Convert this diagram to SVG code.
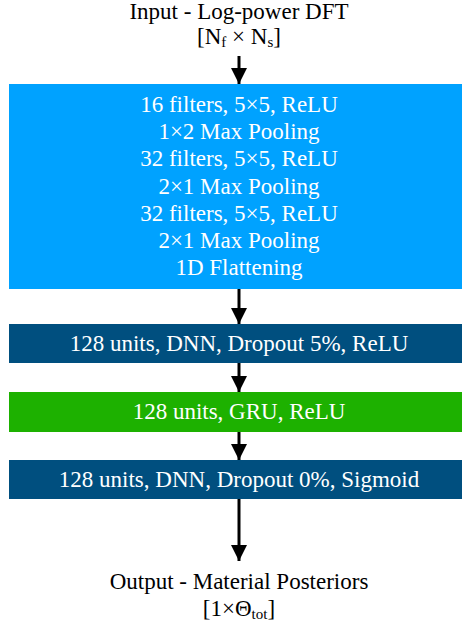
<svg xmlns="http://www.w3.org/2000/svg" width="462" height="625" viewBox="0 0 462 625">
<defs>
<style>
text{font-family:"Liberation Serif","Times New Roman",serif;font-size:23px;text-anchor:middle}
.w{fill:#ffffff}
.k{fill:#000000}
.sub{font-size:15px}
.conn line{stroke:#000;stroke-width:3}
</style>
<marker id="ah" markerUnits="userSpaceOnUse" markerWidth="16" markerHeight="16" viewBox="0 0 16 16" refX="16" refY="8" orient="auto">
<path d="M0,0 L16,8 L0,16 Z" fill="#000"/>
</marker>
</defs>
<rect width="462" height="625" fill="#fff"/>
<g id="input">
<text class="k" x="239" y="19">Input - Log-power DFT</text>
<text class="k" x="239" y="44">[N<tspan class="sub" dy="3">f</tspan><tspan dy="-3"> × N</tspan><tspan class="sub" dy="3">s</tspan><tspan dy="-3">]</tspan></text>
</g>
<g id="cnn">
<rect x="9" y="84" width="460" height="205" fill="#00A2FF"/>
<text class="w" x="239" y="112">16 filters, 5×5, ReLU</text>
<text class="w" x="239" y="139">1×2 Max Pooling</text>
<text class="w" x="239" y="166">32 filters, 5×5, ReLU</text>
<text class="w" x="239" y="194">2×1 Max Pooling</text>
<text class="w" x="239" y="221">32 filters, 5×5, ReLU</text>
<text class="w" x="239" y="248">2×1 Max Pooling</text>
<text class="w" x="239" y="275">1D Flattening</text>
</g>
<g id="dnn1">
<rect x="9" y="324" width="460" height="39" fill="#004F7F"/>
<text class="w" x="239" y="351">128 units, DNN, Dropout 5%, ReLU</text>
</g>
<g id="gru">
<rect x="9" y="392" width="460" height="40" fill="#1DB100"/>
<text class="w" x="239" y="419">128 units, GRU, ReLU</text>
</g>
<g id="dnn2">
<rect x="9" y="460" width="460" height="39" fill="#004F7F"/>
<text class="w" x="239" y="487">128 units, DNN, Dropout 0%, Sigmoid</text>
</g>
<g id="output">
<text class="k" x="239" y="589">Output - Material Posteriors</text>
<text class="k" x="239" y="616">[1×Θ<tspan class="sub" dy="3">tot</tspan><tspan dy="-3">]</tspan></text>
</g>
<g class="conn">
<line x1="239" y1="56" x2="239" y2="84" marker-end="url(#ah)"/>
<line x1="239" y1="289" x2="239" y2="324" marker-end="url(#ah)"/>
<line x1="239" y1="363" x2="239" y2="392" marker-end="url(#ah)"/>
<line x1="239" y1="432" x2="239" y2="460" marker-end="url(#ah)"/>
<line x1="239" y1="499" x2="239" y2="561" marker-end="url(#ah)"/>
</g>
</svg>
